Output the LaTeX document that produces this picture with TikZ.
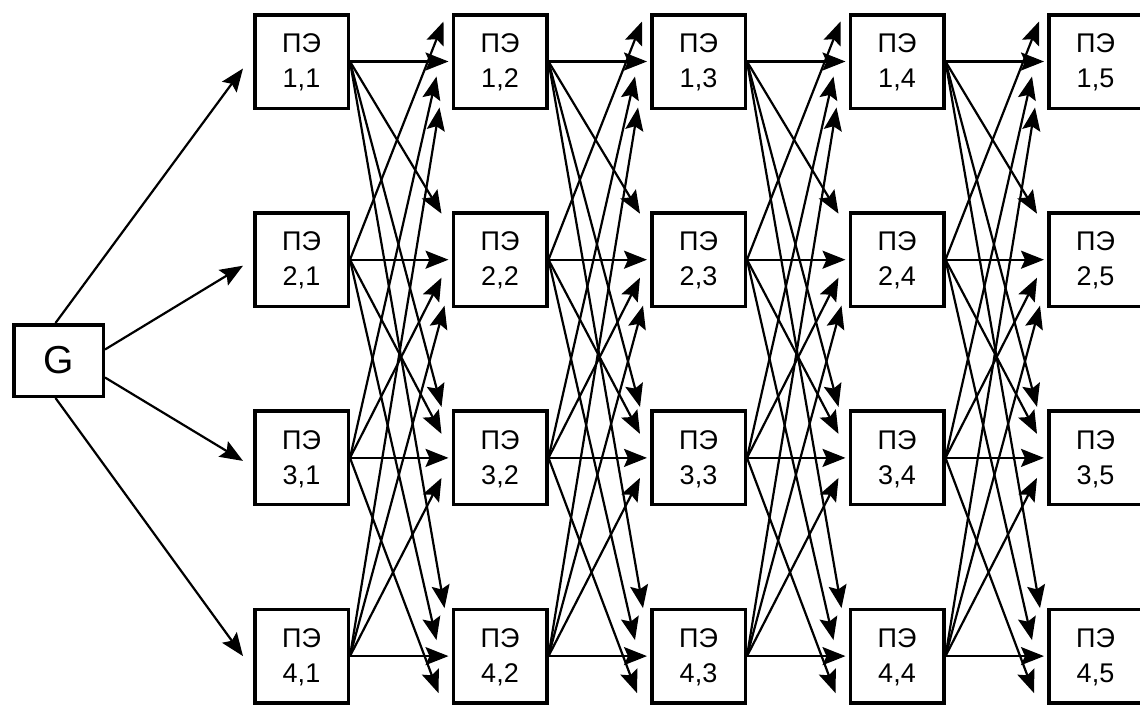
\documentclass[tikz,border=0pt]{standalone}
\usepackage{fontspec}
\setmainfont{Liberation Sans}
\usetikzlibrary{arrows.meta,calc}
\begin{document}
\begin{tikzpicture}[x=1pt,y=-1pt,
  pe/.style={draw, line width=3.5pt, minimum width=93.5pt, minimum height=93.5pt,
    inner sep=0pt},
  petext/.style={align=center, inner sep=0pt, font=\fontsize{27}{35}\selectfont},
  gen/.style={draw, line width=3.5pt, minimum width=89.5pt, minimum height=71.5pt,
    inner sep=0pt, font=\fontsize{39}{40}\selectfont},
  conn/.style={line width=2.2pt, -{Stealth[length=23pt,width=18pt,inset=4pt]}}]
\useasboundingbox (0,0) rectangle (1140,704);

% generator
\node[gen] (g) at (58.5,360.5) {G};

% processing elements, 4 rows x 5 columns
\foreach \row in {1,...,4}
  \foreach \col in {1,...,5} {
    \node[pe] (p\row\col) at ({301.5+198.5*(\col-1)},{61.5+198.2*(\row-1)}) {};
    \node[petext] (t\row\col) at ($(p\row\col.center)+(0,1)$) {ПЭ\\\row,\col};
  }

% generator outputs
\draw[conn] ($(g.north)+(-3,0)$) -- ($(p11.west)+(-10,7)$);
\draw[conn] ($(g.east)+(0,-11)$) -- ($(p21.west)+(-10,6)$);
\draw[conn] ($(g.east)+(0,17)$) -- ($(p31.west)+(-10,3)$);
\draw[conn] ($(g.south)+(-3,0)$) -- ($(p41.west)+(-10,0)$);

% full interconnection between neighbouring columns
\foreach \col in {1,...,4} {
  \pgfmathtruncatemacro{\nxt}{\col+1}
  \foreach \src/\dst/\dx/\dy in {
      1/1/-3/0,   2/1/-8/-40,  3/1/-15/15,  4/1/-12/46,
      1/2/-10/-46, 2/2/-3/0,   3/2/-10/18,  4/2/-7/46,
      1/3/-10/-51, 2/3/-10/-24, 3/3/-3/0,   4/3/-10/20,
      1/4/-7/-48,  2/4/-15/-16, 3/4/-13/37,  4/4/-3/0}
    \draw[conn] (p\src\col.east) -- ($(p\dst\nxt.west)+(\dx,\dy)$);
}
\end{tikzpicture}
\end{document}
